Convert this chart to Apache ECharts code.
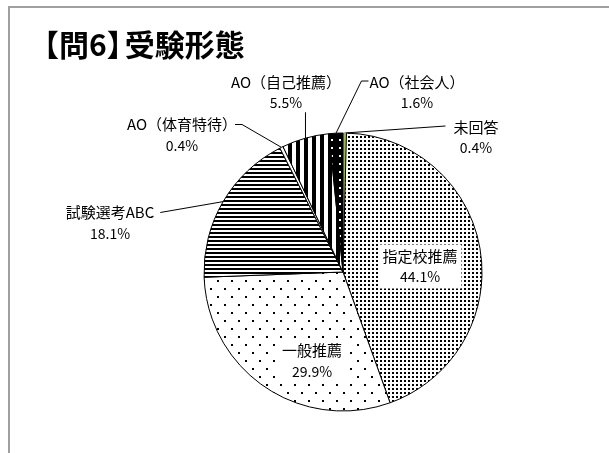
<!DOCTYPE html>
<html>
<head>
<meta charset="utf-8">
<script src="https://cdn.jsdelivr.net/npm/echarts@6/dist/echarts.min.js"></script>
<style>
html,body{margin:0;padding:0;background:#fff}
#main{width:609px;height:453px}
</style>
</head>
<body>
<div id="main"></div>
<script>
// 受験形態 (%), clockwise from 12 o'clock
var names = ['未回答', '指定校推薦', '一般推薦', '試験選考ABC', 'AO（体育特待）', 'AO（自己推薦）', 'AO（社会人）'];
var values = [0.4, 44.1, 29.9, 18.1, 0.4, 5.5, 1.6];

var titleHead = '【問6】';
var titleTail = '受験形態';
var FONT = 'Noto Sans CJK JP';

function pat(w, h, bg, draw) {
    var c = document.createElement('canvas');
    c.width = w; c.height = h;
    var ctx = c.getContext('2d');
    ctx.fillStyle = bg; ctx.fillRect(0, 0, w, h);
    draw(ctx);
    return { image: c, repeat: 'repeat' };
}

var fills = [
    '#9bbb59',
    pat(4, 4, '#fff', function (g) { g.fillStyle = '#000'; g.fillRect(0, 0, 2, 2); }),
    pat(14, 16, '#fff', function (g) { g.fillStyle = '#000'; g.fillRect(0, 0, 2, 2); g.fillRect(7, 8, 2, 2); }),
    pat(4, 4, '#fff', function (g) { g.fillStyle = '#000'; g.fillRect(0, 0, 4, 2); }),
    '#fff',
    pat(8, 4, '#fff', function (g) { g.fillStyle = '#000'; g.fillRect(0, 0, 4, 4); }),
    pat(8, 8, '#000', function (g) { g.fillStyle = '#fff'; g.fillRect(3, 3, 2, 2); })
];

// label placement (centre of the two-line text block) and leader style
var place = [
    { x: 476, y: 137.5, line: 'left' },
    { x: 420, y: 266.5 },
    { x: 312, y: 361 },
    { x: 110, y: 223, line: 'right' },
    { x: 182, y: 135, line: 'rightElbow' },
    { x: 286, y: 92.5, line: 'below' },
    { x: 417, y: 92.5, line: 'leftElbow' }
];

// title pieces: the full-width closing bracket leaves a wide gap in this font, so set the tail separately
var mc = document.createElement('canvas').getContext('2d');
mc.font = 'bold 30px "' + FONT + '"';
var headW = mc.measureText(titleHead).width;
var titleX = 29;

var data = names.map(function (n, i) {
    var inside = !place[i].line;
    return {
        name: n,
        value: values[i],
        itemStyle: { color: fills[i], borderColor: i === 0 ? '#9bbb59' : '#000' },
        label: inside ? { position: 'inside', backgroundColor: '#fff', padding: [1, 4] } : { position: 'outside' },
        labelLine: { show: !inside }
    };
});

var myChart = echarts.init(document.getElementById('main'));
myChart.setOption({
    backgroundColor: '#fff',
    animation: false,
    graphic: [{
        type: 'polyline',
        shape: { points: [[9, 470], [9, 7], [620, 7]] },
        style: { stroke: '#a0a0a0', lineWidth: 2, fill: null }
    }, {
        type: 'text', x: titleX, y: 45,
        style: { text: titleHead, font: 'bold 30px "' + FONT + '"', fill: '#000', verticalAlign: 'middle' }
    }, {
        type: 'text', x: titleX + headW - 12, y: 45,
        style: { text: titleTail, font: 'bold 30px "' + FONT + '"', fill: '#000', verticalAlign: 'middle' }
    }],
    series: [{
        type: 'pie',
        center: [343, 272],
        radius: 139,
        startAngle: 90,
        clockwise: true,
        avoidLabelOverlap: false,
        itemStyle: { borderColor: '#000', borderWidth: 1 },
        label: {
            formatter: function (p) { return '{n|' + p.name + '}\n{v|' + p.value.toFixed(1) + '%}'; },
            fontFamily: FONT,
            color: '#000',
            align: 'center',
            rich: {
                n: { fontFamily: FONT, fontSize: 15, lineHeight: 21, color: '#000' },
                v: { fontFamily: FONT, fontSize: 14, lineHeight: 21, color: '#000' }
            }
        },
        labelLine: { lineStyle: { color: '#000', width: 1 } },
        labelLayout: function (p) {
            var s = place[p.dataIndex];
            var out = { x: s.x, y: s.y, align: 'center', verticalAlign: 'middle' };
            if (!s.line || !p.labelLinePoints) return out;
            var a = p.labelLinePoints[0];
            var w = p.labelRect.width, h = p.labelRect.height;
            var left = s.x - w / 2, right = s.x + w / 2, nameY = s.y - 10.5;
            if (s.line === 'left') out.labelLinePoints = [a, [left - 8, nameY - 1], [left - 8, nameY - 1]];
            if (s.line === 'right') out.labelLinePoints = [a, [right + 6, nameY], [right + 6, nameY]];
            if (s.line === 'rightElbow') out.labelLinePoints = [a, [right + 5, nameY], [right - 2, nameY]];
            if (s.line === 'leftElbow') out.labelLinePoints = [a, [left - 8, nameY - 1], [left - 1, nameY - 1]];
            if (s.line === 'below') out.labelLinePoints = [a, [a[0], s.y + h / 2 + 2], [a[0], s.y + h / 2 + 2]];
            return out;
        },
        data: data
    }]
});
</script>
</body>
</html>
